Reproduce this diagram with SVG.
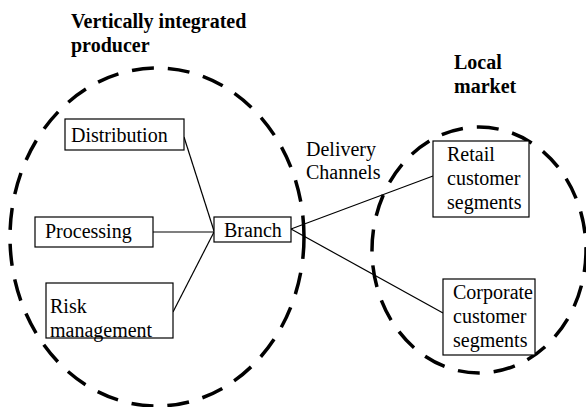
<svg xmlns="http://www.w3.org/2000/svg" width="586" height="407" viewBox="0 0 586 407">
<style>
.t{font-family:"Liberation Serif","Times New Roman",serif;font-size:20px;fill:#000}
.b{font-weight:bold}
.box{fill:#fff;stroke:#000;stroke-width:1.2}
.ell{fill:none;stroke:#000;stroke-width:3.5;stroke-dasharray:22 14}
.ln{stroke:#000;stroke-width:1.2;fill:none}
</style>
<rect width="586" height="407" fill="#fff"/>
<g id="regions">
<ellipse class="ell" cx="157" cy="237" rx="147" ry="169"/>
<ellipse class="ell" cx="479" cy="250" rx="107" ry="123"/>
</g>
<g id="titles">
<text class="t b" x="71" y="28">Vertically integrated</text>
<text class="t b" x="71" y="52">producer</text>
<text class="t b" x="454" y="69">Local</text>
<text class="t b" x="454" y="93">market</text>
<text class="t" x="306" y="156">Delivery</text>
<text class="t" x="306" y="179">Channels</text>
</g>
<g id="connectors">
<line class="ln" x1="184" y1="137" x2="214" y2="231"/>
<line class="ln" x1="153" y1="232" x2="214" y2="232"/>
<line class="ln" x1="173" y1="312" x2="214" y2="232"/>
<line class="ln" x1="291" y1="229" x2="433" y2="176"/>
<line class="ln" x1="291" y1="229" x2="443" y2="313"/>
</g>
<g id="distribution">
<rect class="box" x="65" y="119" width="119" height="31"/>
<text class="t" x="71" y="142">Distribution</text>
</g>
<g id="processing">
<rect class="box" x="35" y="217" width="118" height="30"/>
<text class="t" x="45" y="238">Processing</text>
</g>
<g id="branch">
<rect class="box" x="214" y="217" width="77" height="25"/>
<text class="t" x="224" y="237">Branch</text>
</g>
<g id="risk">
<rect class="box" x="46" y="283" width="127" height="55"/>
<text class="t" x="50" y="313">Risk</text>
<text class="t" x="50" y="337">management</text>
</g>
<g id="retail">
<rect class="box" x="433" y="141" width="96" height="76"/>
<text class="t" x="447" y="161">Retail</text>
<text class="t" x="447" y="185">customer</text>
<text class="t" x="447" y="209">segments</text>
</g>
<g id="corporate">
<rect class="box" x="443" y="279" width="92" height="76"/>
<text class="t" x="453" y="299">Corporate</text>
<text class="t" x="453" y="323">customer</text>
<text class="t" x="453" y="347">segments</text>
</g>
</svg>
